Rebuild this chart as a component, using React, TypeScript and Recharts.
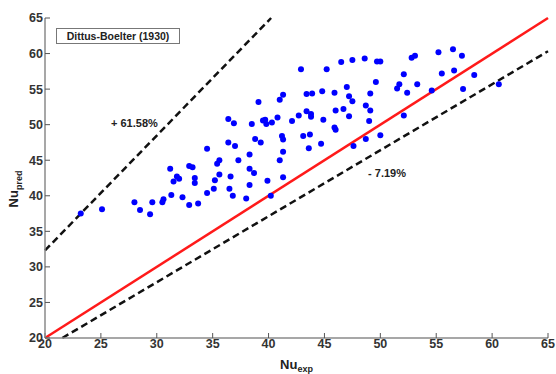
import React from 'react';
import { ScatterChart, Scatter, XAxis, YAxis, ReferenceLine, Label } from 'recharts';

const NU_EXP = [
  23.2, 25.1, 28.0, 28.5, 29.4, 29.6, 30.5, 30.6, 31.3, 31.2,
  31.5, 31.8, 32.0, 32.3, 32.9, 33.2, 32.9, 33.7, 33.4, 33.4,
  34.5, 34.5, 35.1, 35.2, 35.6, 35.4, 35.6, 36.4, 36.9, 36.4,
  37.0, 37.3, 36.6, 36.5, 36.8, 38.0, 38.3, 38.3, 38.7, 38.3,
  39.1, 38.5, 38.8, 39.3, 39.5, 39.7, 39.8, 40.3, 39.9, 40.2,
  40.8, 41.3, 41.0, 41.2, 41.3, 41.3, 41.0, 41.3, 42.1, 42.9,
  45.2, 46.5, 47.5, 48.6, 49.7, 50.0, 49.6, 51.5, 47.0, 43.4,
  43.9, 44.8, 45.9, 47.2, 47.5, 49.1, 48.7, 49.1, 46.7, 46.0,
  47.2, 43.4, 43.8, 43.8, 42.7, 44.9, 49.0, 45.9, 46.0, 43.1,
  43.7, 48.7, 50.0, 43.6, 44.7, 47.6, 52.1, 51.7, 52.1, 52.8,
  53.1, 52.4, 53.3, 55.2, 56.5, 57.3, 55.5, 56.6, 58.4, 54.6,
  57.4, 60.6,
];

const NU_PRED = [
  37.5, 38.1, 39.1, 38.0, 37.4, 39.1, 39.1, 39.5, 40.1, 43.8,
  42.0, 42.7, 42.4, 39.8, 44.2, 44.0, 38.7, 38.9, 42.5, 41.8,
  46.6, 40.4, 41.0, 42.2, 43.0, 44.5, 45.0, 50.8, 50.2, 47.5,
  47.0, 45.0, 42.7, 41.0, 40.0, 39.6, 45.8, 43.8, 43.2, 41.5,
  53.2, 50.1, 48.0, 47.5, 50.6, 50.7, 50.1, 50.3, 42.1, 40.0,
  51.0, 54.2, 53.5, 48.4, 47.9, 46.2, 45.0, 42.6, 50.5, 57.8,
  57.8, 58.8, 59.1, 59.3, 58.9, 58.9, 56.0, 55.1, 55.3, 54.3,
  54.4, 54.7, 54.5, 54.0, 53.3, 54.4, 52.7, 52.0, 52.2, 52.0,
  51.2, 51.9, 51.5, 51.1, 51.3, 50.7, 50.5, 49.6, 49.3, 48.4,
  48.6, 48.0, 48.5, 46.7, 47.3, 47.0, 51.3, 55.7, 57.1, 59.4,
  59.7, 54.5, 55.7, 60.2, 60.6, 59.7, 57.2, 57.6, 57.0, 54.8,
  55.0, 55.7,
];

const TICKS = [20, 25, 30, 35, 40, 45, 50, 55, 60, 65];
const MIN = 20;
const MAX = 65;

// error bands (percent deviation from the y = x line)
const UPPER_PCT = 61.58;
const LOWER_PCT = -7.19;
const BAND_LABELS = ['+ 61.58%', '- 7.19%'];
const BAND_LABEL_X = [28.0, 50.6];
const BAND_LABEL_Y = [50.2, 43.2];

const points = NU_EXP.map((x, i) => ({ x, y: NU_PRED[i] }));
const bandLabels = BAND_LABELS.map((text, i) => ({ x: BAND_LABEL_X[i], y: BAND_LABEL_Y[i], text }));

const up = 1 + UPPER_PCT / 100;
const low = 1 + LOWER_PCT / 100;
const upperSeg = [{ x: MIN, y: MIN * up }, { x: MAX / up, y: MAX }];
const lowerSeg = [{ x: MIN / low, y: MIN }, { x: MAX, y: MAX * low }];
const perfectSeg = [{ x: MIN, y: MIN }, { x: MAX, y: MAX }];

const FONT = 'Liberation Sans, Arial, sans-serif';
const tickStyle = { fontSize: 12.5, fontWeight: 700, fill: '#333', fontFamily: FONT };
const axisStroke = { stroke: '#8a8a8a', strokeWidth: 1.5 };
const noLabel = () => <g />;

const YTitle = ({ viewBox }: any) => {
  const cx = viewBox.x + 18;
  const cy = viewBox.y + viewBox.height / 2 + 11;
  return (
    <text x={cx} y={cy} transform={`rotate(-90, ${cx}, ${cy})`} textAnchor="middle"
      fontFamily={FONT} fontWeight={700} fontSize={13} fill="#222">
      <tspan>Nu</tspan>
      <tspan dy={4} fontSize={9}>pred</tspan>
    </text>
  );
};

const XTitle = ({ viewBox }: any) => {
  const cx = viewBox.x + viewBox.width / 2;
  const cy = viewBox.y + 31;
  return (
    <text x={cx} y={cy} textAnchor="middle" fontFamily={FONT} fontWeight={700} fontSize={13} fill="#222">
      <tspan>Nu</tspan>
      <tspan dy={3} fontSize={9}>exp</tspan>
    </text>
  );
};

const BandText = (p: any) => (
  <text x={p.cx} y={p.cy} textAnchor="middle" dominantBaseline="central"
    fontFamily={FONT} fontWeight={700} fontSize={11} fill="#222">
    {p.payload.text}
  </text>
);

export default function App() {
  return (
    <div style={{ position: 'absolute', left: 0, top: 0, width: 556, height: 374, background: '#fff' }}>
      <ScatterChart width={556} height={374} margin={{ top: 18, right: 8, bottom: 0, left: 0 }}>
        <XAxis xAxisId="b" type="number" dataKey="x" domain={[MIN, MAX]} ticks={TICKS} allowDataOverflow
          tick={tickStyle} tickSize={-5} tickMargin={6} tickLine={{ stroke: '#555' }} axisLine={axisStroke} height={36}>
          <Label content={<XTitle />} />
        </XAxis>
        <XAxis xAxisId="t" orientation="top" type="number" dataKey="x" domain={[MIN, MAX]} ticks={TICKS} allowDataOverflow
          tick={noLabel} tickSize={-5} tickLine={{ stroke: '#555' }} axisLine={axisStroke} height={0} />
        <YAxis yAxisId="l" type="number" dataKey="y" domain={[MIN, MAX]} ticks={TICKS} allowDataOverflow
          tick={tickStyle} tickSize={-5} tickMargin={7} tickLine={{ stroke: '#555' }} axisLine={axisStroke} width={45}>
          <Label content={<YTitle />} />
        </YAxis>
        <YAxis yAxisId="r" orientation="right" type="number" dataKey="y" domain={[MIN, MAX]} ticks={TICKS} allowDataOverflow
          tick={noLabel} tickSize={-5} tickLine={{ stroke: '#555' }} axisLine={axisStroke} width={0} />

        <ReferenceLine xAxisId="b" yAxisId="l" segment={upperSeg} stroke="#111" strokeWidth={2.5} strokeDasharray="7 4" ifOverflow="visible" />
        <ReferenceLine xAxisId="b" yAxisId="l" segment={lowerSeg} stroke="#111" strokeWidth={2.5} strokeDasharray="7 4" ifOverflow="visible" />
        <ReferenceLine xAxisId="b" yAxisId="l" segment={perfectSeg} stroke="#ff1a1a" strokeWidth={2.5} ifOverflow="visible" />

        <Scatter xAxisId="b" yAxisId="l" data={points} fill="#0000ff" isAnimationActive={false}
          shape={(p: any) => <circle cx={p.cx} cy={p.cy} r={3} fill="#0000ff" />} />
        <Scatter xAxisId="b" yAxisId="l" data={bandLabels} isAnimationActive={false} shape={BandText} />
      </ScatterChart>
      <div style={{
        position: 'absolute', left: 56, top: 28, width: 122, height: 14, border: '1px solid #777',
        background: '#fff', fontFamily: FONT, fontWeight: 700, fontSize: 10.5, color: '#222',
        lineHeight: '14px', textAlign: 'center', whiteSpace: 'nowrap',
      }}>
        Dittus-Boelter (1930)
      </div>
    </div>
  );
}
